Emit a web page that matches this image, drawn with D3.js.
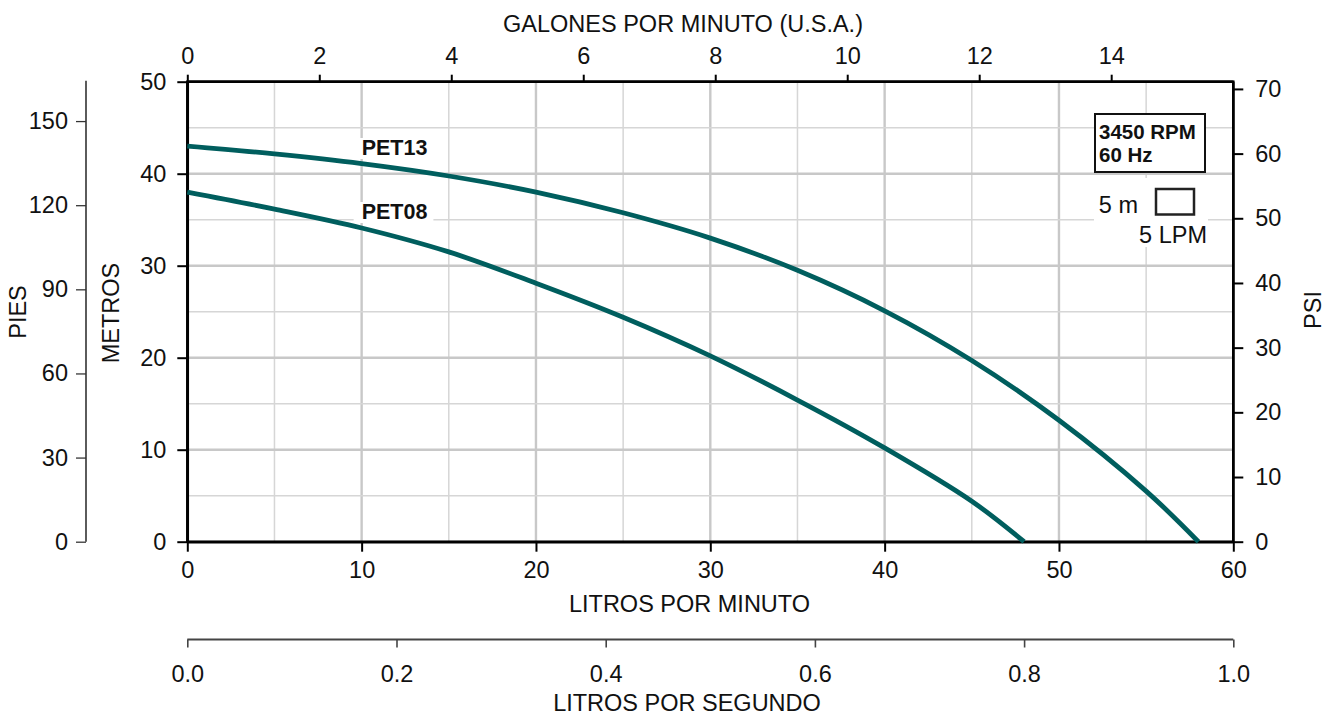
<!DOCTYPE html>
<html>
<head>
<meta charset="utf-8">
<script src="https://cdn.jsdelivr.net/npm/d3@7"></script>
<style>
  html, body { margin: 0; padding: 0; background: #fff; }
  svg { display: block; font-family: "Liberation Sans", Arial, sans-serif; }
</style>
</head>
<body>
<svg id="chart" width="1330" height="717"></svg>
<script>
// ---- data ----
const pet13Flow = [0, 5, 10, 15, 20, 25, 30, 35, 40, 45, 50, 55, 58];
const pet13Head = [43, 42.15, 41.1, 39.75, 38.0, 35.75, 33.0, 29.5, 25.1, 19.7, 13.2, 5.5, 0];
const pet08Flow = [0, 5, 10, 15, 20, 25, 30, 35, 40, 45, 48];
const pet08Head = [38, 36.15, 34.1, 31.5, 28.1, 24.4, 20.2, 15.4, 10.2, 4.4, 0];
const seriesNames = ["PET13", "PET08"];
const lpmTicks = [0, 10, 20, 30, 40, 50, 60];
const meterTicks = [0, 10, 20, 30, 40, 50];
const gpmTicks = [0, 2, 4, 6, 8, 10, 12, 14];
const feetTicks = [0, 30, 60, 90, 120, 150];
const psiTicks = [0, 10, 20, 30, 40, 50, 60, 70];
const lpsTicks = [0, 0.2, 0.4, 0.6, 0.8, 1.0];
const infoLines = ["3450 RPM", "60 Hz"];

// ---- layout ----
const L = 187.3, R = 1233.3, T = 81.7, B = 541.7;
const svg = d3.select("#chart");
const fs = 23.5;

const x = d3.scaleLinear().domain([0, 60]).range([L, R]);
const y = d3.scaleLinear().domain([0, 50]).range([B, T]);
const xg = d3.scaleLinear().domain([0, 60 / 3.78541]).range([L, R]);
const yf = d3.scaleLinear().domain([0, 50 / 0.3048]).range([B, T]);
const yp = d3.scaleLinear().domain([0, 50 / 0.70307]).range([B, T]);
const xs = d3.scaleLinear().domain([0, 1]).range([L, R]);

// ---- grid ----
const grid = svg.append("g");
d3.range(5, 60, 5).forEach(v => {
  const major = v % 10 === 0;
  grid.append("line").attr("x1", x(v)).attr("x2", x(v)).attr("y1", T).attr("y2", B)
    .attr("stroke", major ? "#c8c8c8" : "#d6d6d6").attr("stroke-width", major ? 2.4 : 1.5);
});
d3.range(5, 50, 5).forEach(v => {
  const major = v % 10 === 0;
  grid.append("line").attr("x1", L).attr("x2", R).attr("y1", y(v)).attr("y2", y(v))
    .attr("stroke", major ? "#c8c8c8" : "#d6d6d6").attr("stroke-width", major ? 2.4 : 1.5);
});

function styleAxis(g, color, width) {
  g.selectAll("path.domain").attr("stroke", color).attr("stroke-width", width);
  g.selectAll(".tick line").attr("stroke", color).attr("stroke-width", width * 0.8);
  g.selectAll(".tick text").attr("fill", "#111").style("font-size", fs + "px")
    .style("font-family", "'Liberation Sans', Arial, sans-serif");
}

// bottom LPM axis
const gx = svg.append("g").attr("transform", `translate(0,${B})`)
  .call(d3.axisBottom(x).tickValues(lpmTicks).tickSize(10).tickPadding(5).tickSizeOuter(0));
styleAxis(gx, "#000", 2.5);
gx.selectAll(".tick text").attr("dy", "0.9em");

// top GPM axis
const gt = svg.append("g").attr("transform", `translate(0,${T})`)
  .call(d3.axisTop(xg).tickValues(gpmTicks).tickSize(7).tickPadding(11).tickSizeOuter(0));
styleAxis(gt, "#000", 2.5);
gt.select("path.domain").attr("d", `M${L},0H${R}`);

// left meters axis
const gy = svg.append("g").attr("transform", `translate(${L},0)`)
  .call(d3.axisLeft(y).tickValues(meterTicks).tickSize(10).tickPadding(11).tickSizeOuter(0));
styleAxis(gy, "#000", 2.5);

// right PSI axis
const gp = svg.append("g").attr("transform", `translate(${R},0)`)
  .call(d3.axisRight(yp).tickValues(psiTicks).tickSize(10).tickPadding(12).tickSizeOuter(0));
styleAxis(gp, "#000", 2.5);
gp.select("path.domain").attr("d", `M0,${T}V${B}`);

// far-left feet axis
const gf = svg.append("g").attr("transform", `translate(86,0)`)
  .call(d3.axisLeft(yf).tickValues(feetTicks).tickSize(10).tickPadding(8).tickSizeOuter(0));
styleAxis(gf, "#333", 1.6);
gf.select("path.domain").attr("d", `M0,${T - 1}V${B}`);

// bottom LPS axis
const gs = svg.append("g").attr("transform", `translate(0,639.5)`)
  .call(d3.axisBottom(xs).tickValues(lpsTicks).tickFormat(d3.format(".1f")).tickSize(8).tickSizeOuter(0).tickPadding(13));
styleAxis(gs, "#444", 2);
gs.selectAll(".tick text").attr("dy", "0.9em");
gs.select("path.domain").attr("d", `M${L},0H${R}`);

// frame
svg.append("rect").attr("x", L).attr("y", T).attr("width", R - L).attr("height", B - T)
  .attr("fill", "none").attr("stroke", "#000").attr("stroke-width", 2.5);

// ---- curve labels ----
const labelG = svg.append("g");
const labelPos = [[10, 155], [10, 219]];
seriesNames.forEach((n, i) => {
  const t = labelG.append("text").attr("x", x(labelPos[i][0])).attr("y", labelPos[i][1])
    .attr("font-weight", "bold").style("font-size", "21.5px").attr("fill", "#111").text(n);
  const bb = t.node().getBBox();
  labelG.insert("rect", "text").attr("x", bb.x - 8).attr("y", bb.y + 2).attr("width", bb.width + 14)
    .attr("height", bb.height - 3).attr("fill", "#fff");
});

// ---- curves ----
const line = d3.line().x(d => x(d[0])).y(d => y(d[1])).curve(d3.curveCatmullRom.alpha(0.5));
const series = [d3.zip(pet13Flow, pet13Head), d3.zip(pet08Flow, pet08Head)];
series.forEach(s => {
  svg.append("path").datum(s).attr("d", line).attr("fill", "none")
    .attr("stroke", "#005e5e").attr("stroke-width", 4.8).attr("stroke-linejoin", "round");
});

// ---- info box ----
svg.append("rect").attr("x", 1095).attr("y", 114).attr("width", 110).attr("height", 58)
  .attr("fill", "#fff").attr("stroke", "#111").attr("stroke-width", 2);
infoLines.forEach((s, i) => {
  svg.append("text").attr("x", 1099).attr("y", 139 + i * 23).attr("font-weight", "bold")
    .style("font-size", "20.5px").attr("fill", "#111").text(s);
});

// ---- scale legend ----
svg.append("rect").attr("x", 1094).attr("y", 178).attr("width", 114).attr("height", 69).attr("fill", "#fff");
svg.append("rect").attr("x", 1156).attr("y", 189).attr("width", 38).attr("height", 25.5)
  .attr("fill", "#fff").attr("stroke", "#222").attr("stroke-width", 2.5);
svg.append("text").attr("x", 1138).attr("y", 213).attr("text-anchor", "end")
  .style("font-size", fs + "px").attr("fill", "#111").text("5 m");
svg.append("text").attr("x", 1207).attr("y", 243).attr("text-anchor", "end")
  .style("font-size", fs + "px").attr("fill", "#111").text("5 LPM");

// ---- axis titles ----
function title(txt, xx, yy, rot) {
  svg.append("text").attr("transform", `translate(${xx},${yy}) rotate(${rot || 0})`)
    .attr("text-anchor", "middle").style("font-size", fs + "px").attr("fill", "#111").text(txt);
}
title("GALONES POR MINUTO (U.S.A.)", 683, 32);
title("LITROS POR MINUTO", 689.5, 612);
title("LITROS POR SEGUNDO", 687, 711);
title("METROS", 119, 313, -90);
title("PIES", 26, 312, -90);
title("PSI", 1321, 310, -90);
</script>
</body>
</html>
